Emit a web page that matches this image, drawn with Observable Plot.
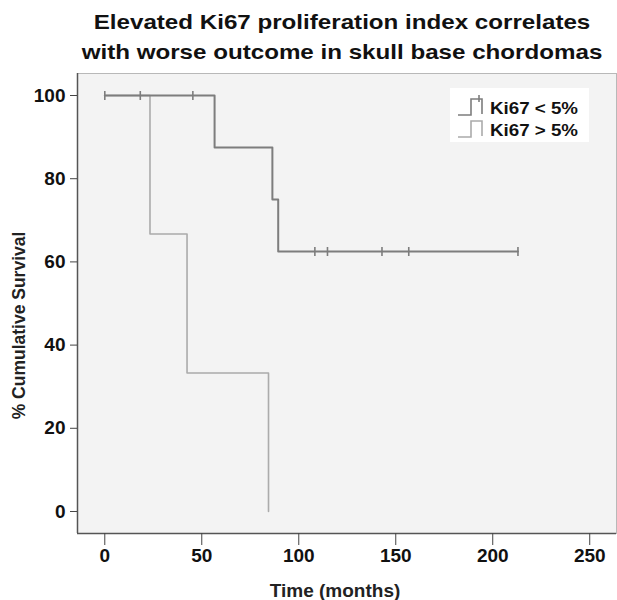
<!DOCTYPE html>
<html>
<head>
<meta charset="utf-8">
<script src="https://cdn.jsdelivr.net/npm/d3@7"></script>
<script src="https://cdn.jsdelivr.net/npm/@observablehq/plot@0.6"></script>
<style>
  body { margin: 0; background: #fff; font-family: Arial, "Liberation Sans", sans-serif; }
  #wrap { position: relative; width: 617px; height: 600px; }
  #title { position: relative; width: 617px; height: 72px; font-weight: bold; font-size: 21px; color: #111; }
  #title span { position: absolute; left: 342px; white-space: nowrap; transform: translateX(-50%) scaleX(1.15); }
  #legend { position: absolute; left: 450px; top: 88px; }
  #chart text { }
</style>
</head>
<body>
<div id="wrap">
  <div id="title"></div>
  <div id="chart"></div>
  <svg id="legend" width="139" height="54"></svg>
</div>
<script>
// ---- data ----
const titleLines = ["Elevated Ki67 proliferation index correlates", "with worse outcome in skull base chordomas"];
const xLabel = "Time (months)";
const yLabel = "% Cumulative Survival";
const seriesNames = ["Ki67 < 5%", "Ki67 > 5%"];
const seriesColors = ["#7d7d7d", "#ababab"];

// Ki67 < 5% : step points (time, survival %)
const lowTimes = [0, 56.6, 86.4, 89.4, 213];
const lowSurv  = [100, 87.5, 75, 62.5, 62.5];
const lowCensorTimes = [0, 18.3, 45.4, 108.3, 114.8, 142.9, 156.7, 213];

// Ki67 > 5% : step points
const highTimes = [0, 23.3, 42.4, 84.4];
const highSurv  = [100, 66.7, 33.3, 0];

const xTicks = [0, 50, 100, 150, 200, 250];
const yTicks = [0, 20, 40, 60, 80, 100];
const xDomain = [-14.07, 263.8];
const yDomain = [-5.29, 105.29];

// ---- build tables ----
const low = lowTimes.map((t, i) => ({t, s: lowSurv[i]}));
const high = highTimes.map((t, i) => ({t, s: highSurv[i]}));
function survAt(times, surv, t) {
  let v = surv[0];
  for (let i = 0; i < times.length; i++) if (times[i] <= t) v = surv[i];
  return v;
}
const lowCensor = lowCensorTimes.map(t => ({t, s: survAt(lowTimes, lowSurv, t)}));

const vbar = {draw(ctx, size) { const h = Math.sqrt(size / Math.PI); ctx.moveTo(0, -h); ctx.lineTo(0, h); }};

// ---- title ----
const titleEl = document.getElementById("title");
titleLines.forEach((line, i) => {
  const s = document.createElement("span");
  s.textContent = line;
  s.style.top = (10 + i * 30) + "px";
  titleEl.appendChild(s);
});

const font = "Arial, 'Liberation Sans', sans-serif";

// ---- chart ----
const chart = Plot.plot({
  width: 617,
  height: 528,
  marginTop: 1,
  marginBottom: 67,
  marginLeft: 77,
  marginRight: 1,
  style: {fontFamily: font, fontWeight: "bold", color: "#222", background: "transparent", overflow: "visible"},
  x: {domain: xDomain},
  y: {domain: yDomain},
  marks: [
    Plot.frame({fill: "#f3f3f3", stroke: "#b8b8b8"}),
    Plot.ruleX([xDomain[0]], {stroke: "#555", strokeWidth: 1.5}),
    Plot.ruleY([yDomain[0]], {stroke: "#555", strokeWidth: 1.5}),
    Plot.axisX({ticks: xTicks, tickSize: 12, tickPadding: 3, fontSize: 19, fontWeight: "bold", label: null, stroke: "#444", fill: "#111"}),
    Plot.axisY({ticks: yTicks, tickSize: 7, tickPadding: 5, fontSize: 19, fontWeight: "bold", label: null, stroke: "#444", fill: "#111"}),
    Plot.line(high, {x: "t", y: "s", curve: "step-after", stroke: seriesColors[1], strokeWidth: 1.6}),
    Plot.line(low, {x: "t", y: "s", curve: "step-after", stroke: seriesColors[0], strokeWidth: 2}),
    Plot.dot(lowCensor, {x: "t", y: "s", symbol: vbar, r: 4.5, stroke: seriesColors[0], strokeWidth: 1.6, fill: "none"}),
    Plot.text([yLabel], {frameAnchor: "left", textAnchor: "middle", rotate: -90, dx: -58, dy: 22, fontSize: 17.5, fontWeight: "bold", fill: "#222", style: "letter-spacing:1px"}),
    Plot.text([xLabel], {frameAnchor: "bottom", textAnchor: "middle", lineAnchor: "middle", dx: -12, dy: 57, fontSize: 19, fontWeight: "bold", fill: "#222", style: "letter-spacing:1.5px"})
  ]
});
document.getElementById("chart").appendChild(chart);

// ---- legend ----
const leg = d3.select("#legend");
leg.append("rect").attr("width", 139).attr("height", 54).attr("fill", "#fff");
seriesNames.forEach((name, i) => {
  const oy = i * 22;
  leg.append("path")
    .attr("d", `M8,${27 + oy} H21 V${11 + oy} H32 V${26 + oy}`)
    .attr("fill", "none").attr("stroke", seriesColors[i]).attr("stroke-width", 1.6);
  if (i === 0) leg.append("path").attr("d", `M29,${7 + oy} V${14 + oy}`).attr("stroke", seriesColors[0]).attr("stroke-width", 1.6);
  leg.append("text")
    .attr("x", 40).attr("y", 20 + oy).attr("dy", "0.35em")
    .attr("font-family", font)
    .attr("font-size", 16).attr("font-weight", "bold").attr("fill", "#111")
    .attr("textLength", 88).attr("lengthAdjust", "spacingAndGlyphs")
    .text(name);
});
</script>
</body>
</html>
